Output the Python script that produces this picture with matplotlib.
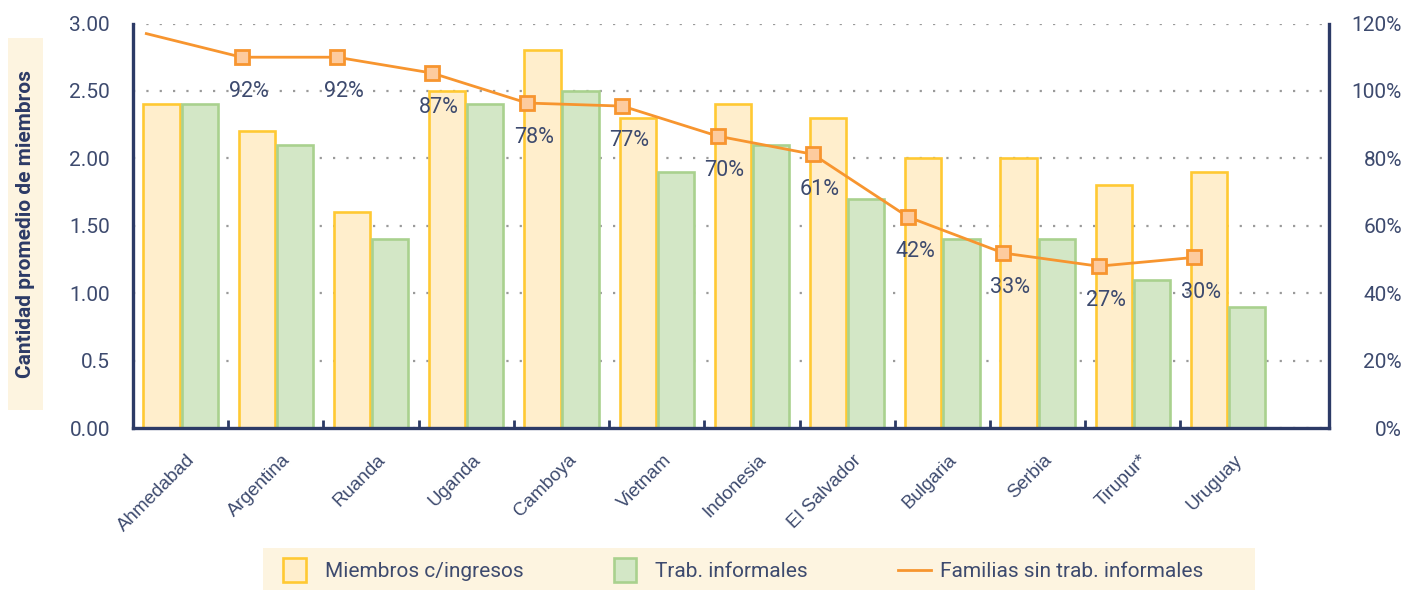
import matplotlib
matplotlib.use("Agg")
import matplotlib.pyplot as plt
import numpy as np
from matplotlib.patches import Rectangle, Patch
from matplotlib.lines import Line2D
from matplotlib.legend_handler import HandlerPatch
from matplotlib.transforms import ScaledTranslation

plt.rcParams['font.family'] = ['Roboto', 'DejaVu Sans']

# ---- data ----
categories = ["Ahmedabad", "Argentina", "Ruanda", "Uganda", "Camboya", "Vietnam",
              "Indonesia", "El Salvador", "Bulgaria", "Serbia", "Tirupur*", "Uruguay"]
miembros_ingresos = [2.4, 2.2, 1.6, 2.5, 2.8, 2.3, 2.4, 2.3, 2.0, 2.0, 1.8, 1.9]
trab_informales = [2.4, 2.1, 1.4, 2.4, 2.5, 1.9, 2.1, 1.7, 1.4, 1.4, 1.1, 0.9]
familias_sin_inf = [117, 110, 110, 105.3, 96.4, 95.5, 86.6, 81.2, 62.6, 51.9, 48.0, 50.6]
familias_labels = ["", "92%", "92%", "87%", "78%", "77%", "70%", "61%", "42%", "33%", "27%", "30%"]
left_ticks = [0.0, 0.5, 1.0, 1.5, 2.0, 2.5, 3.0]
left_ticklabels = ["0.00", "0.5", "1.00", "1.50", "2.00", "2.50", "3.00"]
right_ticks = [0, 20, 40, 60, 80, 100, 120]

# ---- style ----
NAVY = "#2C3A66"
TEXT = "#3D4A6E"
Y_FILL, Y_EDGE = "#FFEECC", "#FFC933"
G_FILL, G_EDGE = "#D3E7C6", "#A9D18E"
ORANGE, M_FILL = "#F7952F", "#FDCB9E"
CREAM = "#FDF4E0"

W, H = 1405, 590
fig = plt.figure(figsize=(W / 100, H / 100), dpi=100)
ax = fig.add_axes([133 / W, 1 - 428 / H, (1329 - 133) / W, (428 - 23.5) / H])
ax2 = ax.twinx()

x = np.arange(len(categories))
bw = 0.38
ax.bar(x - 0.2, miembros_ingresos, bw, color=Y_FILL, edgecolor=Y_EDGE, linewidth=1.9, zorder=2)
ax.bar(x + 0.2, trab_informales, bw, color=G_FILL, edgecolor=G_EDGE, linewidth=1.9, zorder=2)

ax.set_xlim(-0.5, 12.06)
ax.set_ylim(0, 3.0)
ax.set_yticks(left_ticks)
ax.set_yticklabels(left_ticklabels)
ax.yaxis.grid(True, color="#9A9A9A", linestyle=(0, (1, 5)), linewidth=1.6, zorder=0)
ax.set_axisbelow(True)
ax.tick_params(axis='y', length=0, pad=16.5, labelsize=15, labelcolor=TEXT)

ax.set_xticks(x)
ax.set_xticklabels(categories, rotation=45, ha='right', va='top', rotation_mode='anchor',
                   family=['Liberation Sans', 'DejaVu Sans'])
ax.tick_params(axis='x', which='major', length=0, pad=17, labelsize=13.5, labelcolor=TEXT)
ax.set_xticks(x[:-1] + 0.5, minor=True)
ax.tick_params(axis='x', which='minor', direction='in', length=6, width=2, color=NAVY)
for lab in ax.get_xticklabels():
    lab.set_transform(lab.get_transform() + ScaledTranslation(6 / 100, 0, fig.dpi_scale_trans))

for s in ["top", "right"]:
    ax.spines[s].set_visible(False)
for s in ["left", "bottom"]:
    ax.spines[s].set_color(NAVY)
    ax.spines[s].set_linewidth(2.4)

# line on secondary axis
xl = x - 0.36
ax2.plot(xl, familias_sin_inf, color=ORANGE, linewidth=2.0, zorder=3)
ax2.plot(xl[1:], familias_sin_inf[1:], linestyle='none', marker='s', markersize=10,
         markerfacecolor=M_FILL, markeredgecolor=ORANGE, markeredgewidth=2.0, zorder=4)
for xi, yi, lab in zip(xl, familias_sin_inf, familias_labels):
    if lab:
        ax2.annotate(lab, (xi, yi), xytext=(5, -25), textcoords='offset points',
                     ha='center', va='center', fontsize=15.5, color=TEXT, zorder=5)
ax2.set_ylim(0, 120)
ax2.set_yticks(right_ticks)
ax2.set_yticklabels([f"{v}%" for v in right_ticks])
ax2.tick_params(axis='y', length=0, pad=52.5, labelsize=15, labelcolor=TEXT)
for lab in ax2.get_yticklabels():
    lab.set_horizontalalignment('right')
for s in ["top", "left", "bottom"]:
    ax2.spines[s].set_visible(False)
ax2.spines["right"].set_color(NAVY)
ax2.spines["right"].set_linewidth(2.4)

# y label with cream box
fig.add_artist(Rectangle((8 / W, 1 - 410 / H), 35 / W, 372 / H, transform=fig.transFigure,
                         facecolor=CREAM, edgecolor='none', zorder=0))
fig.text(26 / W, 1 - 224 / H, "Cantidad promedio de miembros", rotation=90, ha='center', va='center',
         fontsize=15, fontweight='bold', color=NAVY)

# legend
fig.add_artist(Rectangle((263 / W, 0), (1255 - 263) / W, 42 / H, transform=fig.transFigure,
                         facecolor=CREAM, edgecolor='none', zorder=0))


def square(legend, orig_handle, xdescent, ydescent, width, height, fontsize):
    return Rectangle((-xdescent, -ydescent + height / 2 - 8.8), 16.5, 17.6)


handles = [Patch(facecolor=Y_FILL, edgecolor=Y_EDGE, linewidth=1.9, label="Miembros c/ingresos"),
           Patch(facecolor=G_FILL, edgecolor=G_EDGE, linewidth=1.9, label="Trab. informales"),
           Line2D([], [], color=ORANGE, linewidth=2.0, label="Familias sin trab. informales")]
leg = fig.legend(handles=handles, loc='center left',
                 bbox_to_anchor=(283 / W, 1 - 572 / H, (1203 - 283) / W, 0.0001),
                 mode='expand', ncol=3, frameon=False, fontsize=15, handlelength=1.6,
                 handletextpad=0.4, borderpad=0, borderaxespad=0,
                 handler_map={Patch: HandlerPatch(patch_func=square)})
for t in leg.get_texts():
    t.set_color(TEXT)

fig.savefig("out.png", dpi=100)
